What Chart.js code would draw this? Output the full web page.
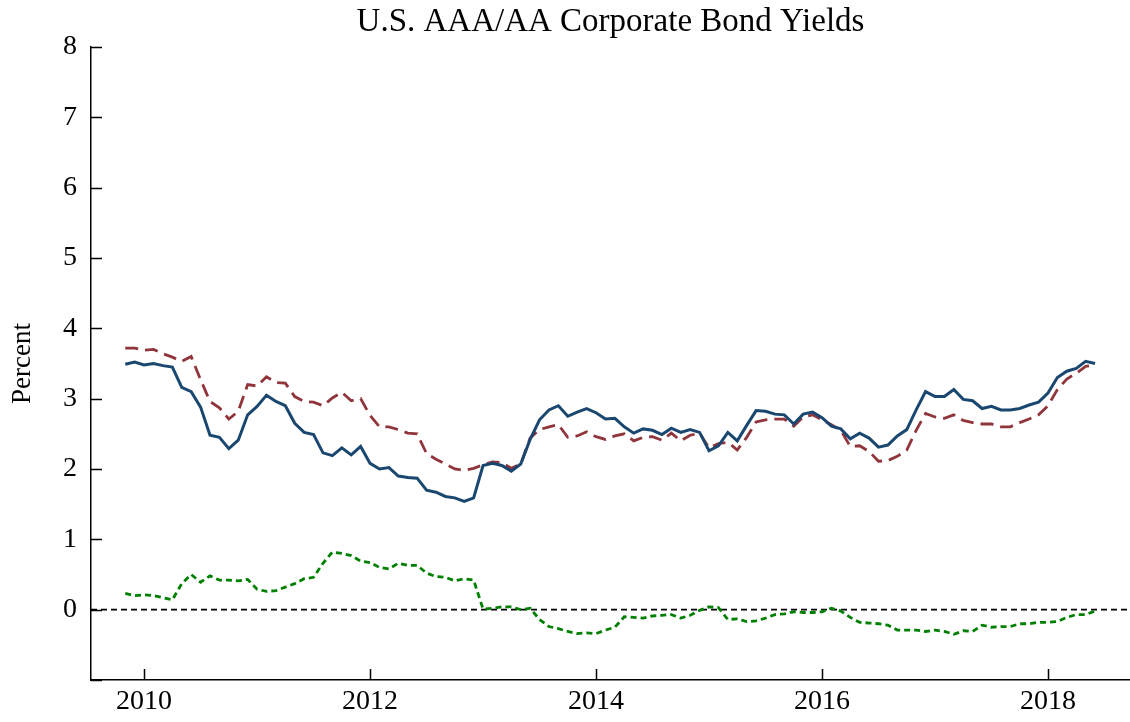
<!DOCTYPE html>
<html><head><meta charset="utf-8">
<script src="https://cdn.jsdelivr.net/npm/chart.js@4.4.1/dist/chart.umd.min.js"></script>
<style>html,body{margin:0;padding:0;background:#fff;overflow:hidden}</style>
</head><body>
<canvas id="c" width="1130" height="722"></canvas>
<script>
const titleText = 'U.S. AAA/AA Corporate Bond Yields';
const yTitle = 'Percent';
const xTickYears = [2010, 2012, 2014, 2016, 2018];
const yTickValues = [-1, 0, 1, 2, 3, 4, 5, 6, 7, 8];
const xMin = 2009.53, xMax = 2018.726;
const yMin = -1, yMax = 8;

// monthly categories, Nov 2009 .. Jun 2018
const months = [];
for (let yr = 2009, m = 11; months.length < 104; m++) {
  if (m > 12) { m = 1; yr++; }
  months.push(yr + '-' + String(m).padStart(2, '0'));
}

// solid navy series
const aaaYield = [
  3.49, 3.52,
  3.48, 3.50, 3.47, 3.45, 3.16, 3.10, 2.88, 2.48, 2.45, 2.29, 2.41, 2.77,
  2.89, 3.05, 2.96, 2.90, 2.65, 2.52, 2.49, 2.23, 2.19, 2.30, 2.20, 2.32,
  2.08, 2.00, 2.02, 1.90, 1.88, 1.87, 1.70, 1.67, 1.61, 1.59, 1.54, 1.59,
  2.05, 2.08, 2.05, 1.97, 2.07, 2.42, 2.70, 2.84, 2.90, 2.75, 2.81, 2.86,
  2.80, 2.71, 2.72, 2.60, 2.51, 2.57, 2.55, 2.49, 2.58, 2.52, 2.56, 2.52,
  2.26, 2.33, 2.52, 2.40, 2.62, 2.83, 2.82, 2.78, 2.77, 2.64, 2.78, 2.81,
  2.73, 2.61, 2.57, 2.43, 2.51, 2.44, 2.31, 2.34, 2.47, 2.56, 2.84, 3.10,
  3.03, 3.03, 3.13, 2.99, 2.97, 2.86, 2.89, 2.84, 2.84, 2.86, 2.91, 2.95,
  3.08, 3.30, 3.39, 3.43, 3.53, 3.50
];
// dashed maroon series
const aaYield = [
  3.72, 3.72,
  3.69, 3.70, 3.64, 3.59, 3.53, 3.60, 3.27, 2.96, 2.87, 2.71, 2.82, 3.20,
  3.18, 3.31, 3.23, 3.22, 3.03, 2.96, 2.95, 2.90, 3.01, 3.09, 2.97, 3.00,
  2.76, 2.60, 2.60, 2.56, 2.51, 2.50, 2.22, 2.14, 2.07, 2.00, 1.98, 2.01,
  2.06, 2.10, 2.09, 2.01, 2.07, 2.44, 2.56, 2.60, 2.63, 2.45, 2.47, 2.53,
  2.46, 2.42, 2.47, 2.50, 2.40, 2.45, 2.46, 2.41, 2.51, 2.40, 2.48, 2.51,
  2.30, 2.36, 2.38, 2.27, 2.45, 2.67, 2.70, 2.71, 2.71, 2.61, 2.74, 2.77,
  2.70, 2.63, 2.55, 2.32, 2.33, 2.25, 2.11, 2.12, 2.18, 2.27, 2.55, 2.79,
  2.74, 2.72, 2.77, 2.69, 2.66, 2.64, 2.64, 2.60, 2.60, 2.66, 2.71, 2.77,
  2.90, 3.13, 3.28, 3.36, 3.46, 3.48
];
// short-dashed green series
const spread = [
  0.23, 0.20,
  0.21, 0.20, 0.17, 0.14, 0.37, 0.50, 0.39, 0.48, 0.42, 0.42, 0.41, 0.43,
  0.29, 0.26, 0.27, 0.32, 0.37, 0.44, 0.46, 0.66, 0.82, 0.80, 0.77, 0.69,
  0.67, 0.60, 0.58, 0.66, 0.63, 0.63, 0.52, 0.47, 0.46, 0.41, 0.44, 0.42,
  0.01, 0.02, 0.04, 0.04, 0.00, 0.02, -0.14, -0.24, -0.27, -0.31, -0.34, -0.33,
  -0.34, -0.29, -0.25, -0.10, -0.11, -0.12, -0.09, -0.08, -0.07, -0.12, -0.08, -0.01,
  0.04, 0.03, -0.14, -0.13, -0.17, -0.16, -0.12, -0.07, -0.06, -0.03, -0.04, -0.04,
  -0.03, 0.02, -0.02, -0.11, -0.18, -0.19, -0.20, -0.22, -0.29, -0.29, -0.29, -0.31,
  -0.29, -0.31, -0.35, -0.30, -0.31, -0.22, -0.25, -0.24, -0.24, -0.20, -0.20, -0.18,
  -0.18, -0.17, -0.11, -0.07, -0.07, -0.02
];

const toX = s => { const [y, m] = s.split('-').map(Number); return y + (m - 1) / 12; };
const pts = arr => arr.map((v, i) => ({ x: toX(months[i]), y: v }));

const FONT = '"Liberation Serif", "Times New Roman", serif';

const frame = {
  id: 'frame',
  afterDraw(chart) {
    const { ctx, chartArea: a, scales: { x, y } } = chart;
    ctx.save();
    ctx.strokeStyle = '#000';
    ctx.lineWidth = 1.5;
    ctx.beginPath();
    y.ticks.forEach(t => { const py = Math.round(y.getPixelForValue(t.value)) + 0.5; ctx.moveTo(a.left, py); ctx.lineTo(a.left + 11, py); });
    x.ticks.forEach(t => { const px = Math.round(x.getPixelForValue(t.value)) + 0.5; ctx.moveTo(px, a.bottom); ctx.lineTo(px, a.bottom - 11); });
    ctx.stroke();
    ctx.fillStyle = '#000';
    ctx.font = '33px ' + FONT;
    ctx.textAlign = 'center';
    ctx.textBaseline = 'middle';
    ctx.fillText(titleText, (a.left + a.right) / 2, 22);
    ctx.restore();
  }
};

new Chart(document.getElementById('c'), {
  type: 'line',
  data: {
    datasets: [
      { label: 'AAA', data: pts(aaaYield), borderColor: '#1a476f', borderWidth: 3, pointRadius: 0, tension: 0, order: 1 },
      { label: 'AA', data: pts(aaYield), borderColor: '#90353b', borderWidth: 2.8, borderDash: [13, 7], pointRadius: 0, tension: 0, order: 2 },
      { label: 'Spread', data: pts(spread), borderColor: '#008000', borderWidth: 2.8, borderDash: [6, 4], pointRadius: 0, tension: 0, order: 3 },
      { label: 'zero', data: [{ x: xMin, y: 0 }, { x: xMax, y: 0 }], borderColor: '#000', borderWidth: 1.6, borderDash: [6, 4], pointRadius: 0, order: 4 }
    ]
  },
  options: {
    responsive: false,
    animation: false,
    devicePixelRatio: 1,
    layout: { padding: { top: 47, left: 0, right: 0, bottom: 0 } },
    plugins: { legend: { display: false }, tooltip: { enabled: false }, title: { display: false } },
    scales: {
      x: {
        type: 'linear', min: xMin, max: xMax,
        afterBuildTicks: s => { s.ticks = xTickYears.map(v => ({ value: v })); },
        afterFit: s => { s.height = 42; },
        grid: { display: false, drawTicks: false },
        border: { display: true, color: '#000', width: 1.5 },
        ticks: { color: '#000', font: { family: FONT, size: 28 }, padding: 5, maxRotation: 0, autoSkip: false, callback: v => String(v) }
      },
      y: {
        type: 'linear', min: yMin, max: yMax,
        afterBuildTicks: s => { s.ticks = yTickValues.map(v => ({ value: v })); },
        afterFit: s => { s.width = 91; },
        grid: { display: false, drawTicks: false },
        border: { display: true, color: '#000', width: 1.5 },
        ticks: { color: '#000', font: { family: FONT, size: 28 }, padding: 14, callback: v => (v === -1 ? '' : String(v)) },
        title: { display: true, text: yTitle, color: '#000', font: { family: FONT, size: 27 }, padding: { top: 7, bottom: 0 } }
      }
    }
  },
  plugins: [frame]
});
</script>
</body></html>
